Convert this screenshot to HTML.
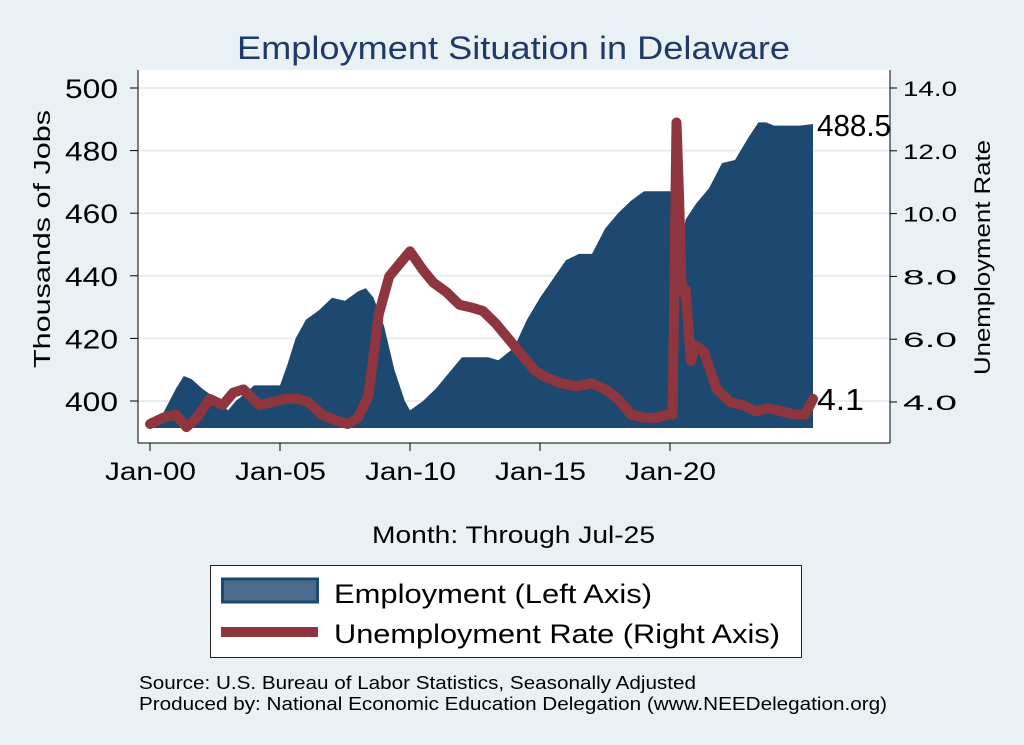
<!DOCTYPE html>
<html><head><meta charset="utf-8"><style>
body{margin:0;background:#eaf1f4;}
svg{display:block;font-family:"Liberation Sans",sans-serif;}
</style></head><body>
<svg id="c" width="1024" height="745">
<rect x="0" y="0" width="1024" height="745" fill="#eaf1f4"/>
<text x="237" y="59" font-size="32" textLength="553" lengthAdjust="spacingAndGlyphs" fill="#1f3a66">Employment Situation in Delaware</text>
<rect x="138" y="70" width="752" height="373" fill="#fff"/>
<g id="grid"></g><g id="marks"></g><g id="axes"></g>
<text transform="translate(50,368) rotate(-90)" font-size="23" textLength="258" lengthAdjust="spacingAndGlyphs" fill="#000">Thousands of Jobs</text>
<text transform="translate(990,375) rotate(-90)" font-size="22" textLength="235" lengthAdjust="spacingAndGlyphs" fill="#000">Unemployment Rate</text>
<text x="372" y="543" font-size="24" textLength="283" lengthAdjust="spacingAndGlyphs" fill="#000">Month: Through Jul-25</text>
<g>
<rect x="210.5" y="565.5" width="591" height="92" fill="#fff" stroke="#222" stroke-width="1"/>
<rect x="222.5" y="579" width="95" height="23" fill="#4a6c8c" stroke="#1d4870" stroke-width="3"/>
<text x="334" y="603" font-size="27" textLength="318" lengthAdjust="spacingAndGlyphs" fill="#000">Employment (Left Axis)</text>
<rect x="221" y="627" width="97" height="10" fill="#8f353e"/>
<text x="334" y="643" font-size="27" textLength="446" lengthAdjust="spacingAndGlyphs" fill="#000">Unemployment Rate (Right Axis)</text>
</g>
<text x="139" y="689" font-size="18" textLength="557" lengthAdjust="spacingAndGlyphs" fill="#000">Source: U.S. Bureau of Labor Statistics, Seasonally Adjusted</text>
<text x="139" y="710" font-size="18" textLength="748" lengthAdjust="spacingAndGlyphs" fill="#000">Produced by: National Economic Education Delegation (www.NEEDelegation.org)</text>
</svg>
<script>
const empDates=[2000.0,2000.5,2001.0,2001.3,2001.6,2002.0,2002.5,2003.0,2003.3,2003.6,2004.0,2004.5,2005.0,2005.3,2005.6,2006.0,2006.5,2007.0,2007.5,2008.0,2008.3,2008.6,2009.0,2009.4,2009.8,2010.0,2010.5,2011.0,2011.5,2012.0,2012.5,2013.0,2013.4,2014.0,2014.5,2015.0,2015.5,2016.0,2016.5,2017.0,2017.5,2018.0,2018.5,2019.0,2019.5,2020.1,2020.25,2020.45,2020.6,2021.0,2021.5,2022.0,2022.5,2023.0,2023.4,2023.7,2024.0,2024.5,2025.0,2025.5];
const empValues=[392,396,404,408,407,404,401,397,400,402,405,405,405,412,420,426,429,433,432,435,436,433,424,410,400,397,400,404,409,414,414,414,413,417,426,433,439,445,447,447,455,460,464,467,467,467,430,450,458,463,468,476,477,484,489,489,488,488,488,488.5];
const urDates=[2000.0,2000.5,2001.0,2001.4,2001.8,2002.3,2002.8,2003.2,2003.6,2004.2,2004.7,2005.2,2005.7,2006.1,2006.6,2007.2,2007.6,2008.0,2008.4,2008.8,2009.2,2009.6,2010.0,2010.5,2010.9,2011.4,2011.9,2012.4,2012.8,2013.3,2013.8,2014.3,2014.8,2015.2,2015.8,2016.4,2017.0,2017.5,2018.0,2018.5,2019.0,2019.5,2019.9,2020.1,2020.25,2020.35,2020.45,2020.6,2020.8,2021.0,2021.3,2021.8,2022.3,2022.8,2023.3,2023.8,2024.3,2024.8,2025.2,2025.5];
const urValues=[3.3,3.5,3.6,3.2,3.5,4.1,3.9,4.3,4.4,3.9,4.0,4.1,4.1,4.0,3.6,3.4,3.3,3.5,4.2,6.8,8.0,8.4,8.8,8.2,7.8,7.5,7.1,7.0,6.9,6.5,6.0,5.5,5.0,4.8,4.6,4.5,4.6,4.4,4.1,3.6,3.5,3.5,3.6,3.6,12.9,10.5,7.5,7.6,5.3,5.8,5.6,4.4,4.0,3.9,3.7,3.8,3.7,3.6,3.6,4.1];
const leftTicks=[400,420,440,460,480,500];
const rightTicks=[4.0,6.0,8.0,10.0,12.0,14.0];
const xTickYears=[2000,2005,2010,2015,2020];
const xTickLabels=["Jan-00","Jan-05","Jan-10","Jan-15","Jan-20"];
const NS="http://www.w3.org/2000/svg";
const X=t=>150+(t-2000)*26;
const YL=v=>401-(v-400)*3.13;
const YR=v=>402-(v-4)*31.4;
function mk(tag,attrs,parent,txt){const e=document.createElementNS(NS,tag);for(const k in attrs)e.setAttribute(k,attrs[k]);if(txt!==undefined)e.textContent=txt;parent.appendChild(e);return e;}
const grid=document.getElementById('grid'),marks=document.getElementById('marks'),axes=document.getElementById('axes');
leftTicks.forEach(v=>{
 const g=mk('line',{x1:138,x2:890,y1:YL(v),y2:YL(v),stroke:'#e6eef2','stroke-width':2},grid);
 
 
 const t=mk('line',{x1:130,x2:138,y1:YL(v),y2:YL(v),stroke:'#000'},axes);
 
 
 const l=mk('text',{x:65,y:YL(v)+10,'font-size':27,textLength:53,lengthAdjust:'spacingAndGlyphs'},axes,String(v));
 
 
});
rightTicks.forEach(v=>{
 const t=mk('line',{x1:890,x2:897,y1:YR(v),y2:YR(v),stroke:'#000'},axes);
 
 
 const l=mk('text',{x:903,y:YR(v)+8,'font-size':21,textLength:54,lengthAdjust:'spacingAndGlyphs'},axes,v.toFixed(1));
 
 
});
xTickYears.forEach((y,i)=>{
 const t=mk('line',{x1:X(y),x2:X(y),y1:443,y2:451,stroke:'#000'},axes);
 
 
 const l=mk('text',{x:X(y)-45,y:480,'font-size':25,textLength:91,lengthAdjust:'spacingAndGlyphs'},axes,xTickLabels[i]);
 
 
});
mk('line',{x1:138,x2:138,y1:70,y2:443,stroke:'#000'},axes);
mk('line',{x1:890,x2:890,y1:70,y2:443,stroke:'#000'},axes);
mk('line',{x1:138,x2:890,y1:443,y2:443,stroke:'#000'},axes);
const base=428;
let d='M'+X(empDates[0])+','+base;
empDates.forEach((t,i)=>{d+=' L'+X(t).toFixed(1)+','+YL(empValues[i]).toFixed(1);});
d+=' L'+X(empDates[empDates.length-1])+','+base+' Z';
const area=mk('path',{d:d,fill:'#1d4870'},marks);


let p='';
urDates.forEach((t,i)=>{p+=(i?' L':'M')+X(t).toFixed(1)+','+YR(urValues[i]).toFixed(1);});
const line=mk('path',{d:p,fill:'none',stroke:'#8f353e','stroke-width':10,'stroke-linejoin':'round','stroke-linecap':'round'},marks);


const lastE=empValues[empValues.length-1],lastU=urValues[urValues.length-1],lastT=empDates[empDates.length-1];
const le=mk('text',{x:X(lastT)+4,y:YL(lastE)+12,'font-size':31,textLength:74,lengthAdjust:'spacingAndGlyphs'},marks,lastE.toFixed(1));


const lu=mk('text',{x:X(lastT)+4,y:YR(lastU)+11,'font-size':31,textLength:47,lengthAdjust:'spacingAndGlyphs'},marks,lastU.toFixed(1));


</script>
</body></html>
